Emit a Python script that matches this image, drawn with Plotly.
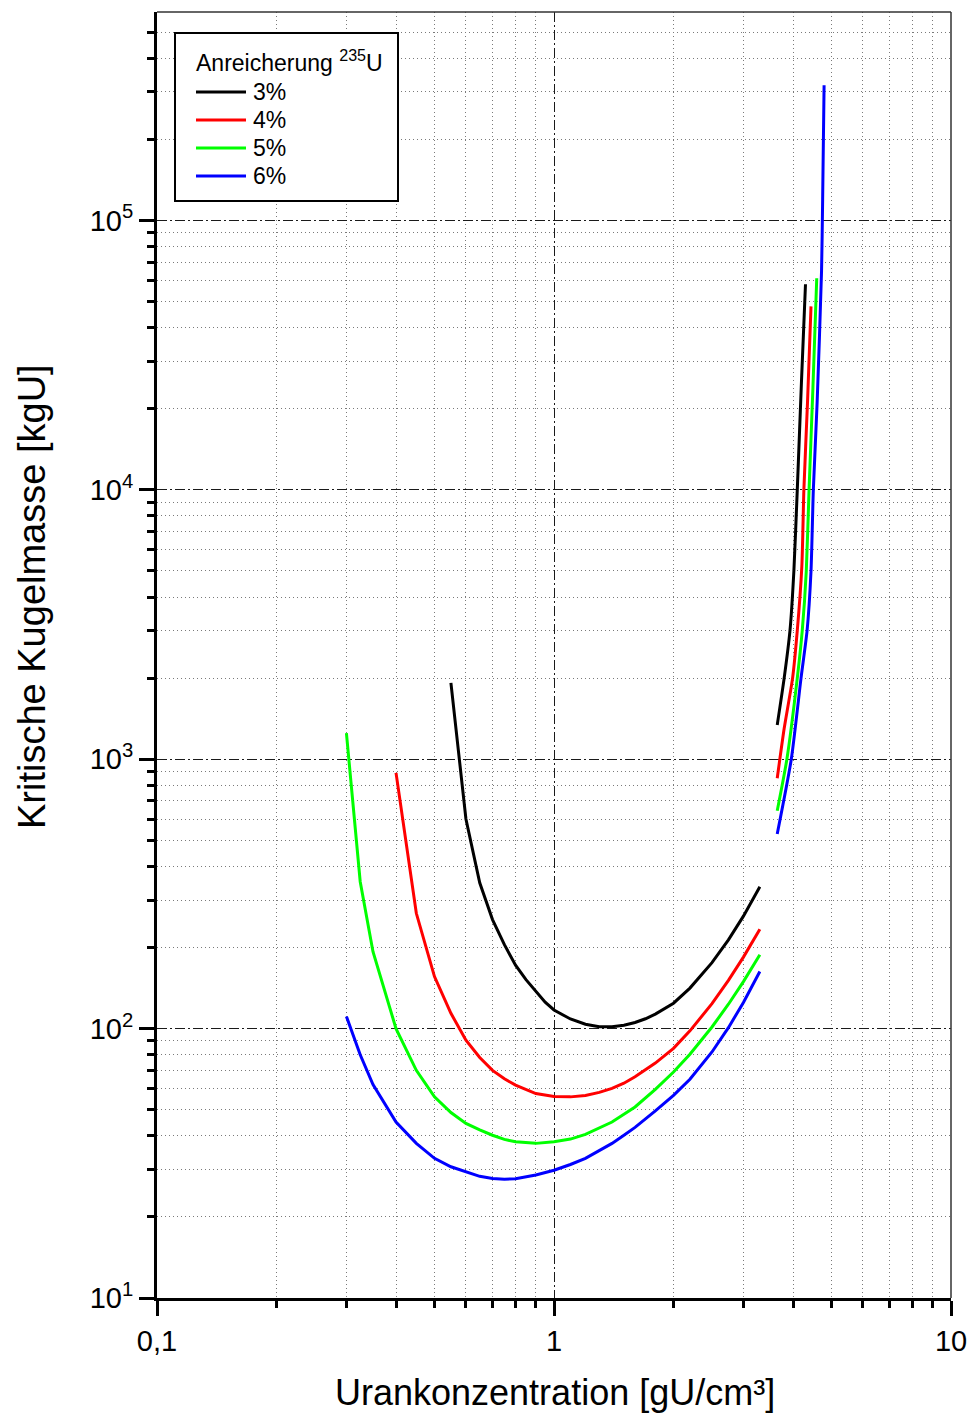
import plotly.graph_objects as go

# Critical sphere mass of uranium vs. uranium concentration, per enrichment level.
# Each enrichment has a low-concentration branch (U-shaped) and a high-concentration branch.

enrichment_labels = ["3%", "4%", "5%", "6%"]
line_colors = ["#000000", "#ff0000", "#00ff00", "#0000ff"]

# 3 % enrichment
conc_3_low = [0.55, 0.60, 0.65, 0.70, 0.75, 0.80, 0.85, 0.90, 0.95, 1.00, 1.10, 1.20, 1.30, 1.40, 1.50,
              1.60, 1.70, 1.80, 1.90, 2.00, 2.20, 2.50, 2.75, 3.00, 3.30]
mass_3_low = [1920, 600, 348, 254, 205, 172, 152, 138, 125.4, 117.3, 108.6, 103.8, 101.7, 101.6, 103,
              105.4, 108.8, 113.2, 118.4, 124.3, 141.4, 175.7, 213.5, 261.6, 336]
conc_3_high = [3.65, 3.80, 3.93, 4.02, 4.10, 4.20, 4.30]
mass_3_high = [1340, 2000, 3000, 5000, 10000, 25000, 58000]

# 4 % enrichment
conc_4_low = [0.40, 0.45, 0.50, 0.55, 0.60, 0.65, 0.70, 0.75, 0.80, 0.90, 1.00, 1.10, 1.20, 1.30, 1.40,
              1.50, 1.60, 1.80, 2.00, 2.20, 2.50, 2.75, 3.00, 3.30]
mass_4_low = [890, 268, 156, 114, 90.6, 78.1, 70, 65.1, 61.7, 57.4, 56, 55.8, 56.5, 58, 60,
              62.7, 66.3, 74.5, 84.5, 98.1, 123.8, 151, 184.3, 234]
conc_4_high = [3.65, 3.80, 3.99, 4.10, 4.21, 4.26, 4.35, 4.44]
mass_4_high = [850, 1300, 2000, 3000, 5200, 10000, 21000, 48000]

# 5 % enrichment
conc_5_low = [0.300, 0.325, 0.350, 0.400, 0.450, 0.500, 0.550, 0.600, 0.650, 0.700, 0.750, 0.800, 0.900,
              1.000, 1.100, 1.200, 1.400, 1.600, 1.800, 2.000, 2.200, 2.500, 2.750, 3.000, 3.300]
mass_5_low = [1250, 351, 193, 100, 70, 55.8, 48.8, 44.5, 42.1, 40.2, 38.8, 38, 37.5,
              38, 38.9, 40.5, 45, 51.2, 59.5, 69, 80.4, 101.4, 123.2, 149.5, 188]
conc_5_high = [3.65, 3.86, 4.10, 4.22, 4.32, 4.39, 4.49, 4.59]
mass_5_high = [644, 1000, 2000, 3000, 5000, 10000, 24000, 61000]

# 6 % enrichment
conc_6_low = [0.300, 0.325, 0.350, 0.400, 0.450, 0.500, 0.550, 0.600, 0.650, 0.700, 0.750, 0.800, 0.900,
              1.000, 1.100, 1.200, 1.300, 1.400, 1.500, 1.600, 1.800, 2.000, 2.200, 2.500, 2.750, 3.000, 3.300]
mass_6_low = [111, 80, 62, 45, 37.5, 33, 30.7, 29.4, 28.3, 27.8, 27.6, 27.7, 28.6,
              29.8, 31.3, 33, 35.2, 37.5, 40.2, 43, 49.5, 56.5, 64.9, 81.9, 100.8, 125.1, 163]
conc_6_high = [3.65, 3.96, 4.19, 4.34, 4.44, 4.50, 4.60, 4.72, 4.75, 4.79]
mass_6_high = [528, 1000, 2000, 3000, 5000, 10000, 21000, 65000, 120000, 318000]

x_tick_vals = [0.1, 1, 10]
x_tick_text = ["0,1", "1", "10"]
y_tick_vals = [1e1, 1e2, 1e3, 1e4, 1e5]
y_tick_text = ["10<sup>1</sup>", "10<sup>2</sup>", "10<sup>3</sup>", "10<sup>4</sup>", "10<sup>5</sup>"]

legend_title = "Anreicherung <sup>235</sup>U"
x_title = "Urankonzentration [gU/cm³]"
y_title = "Kritische Kugelmasse [kgU]"

x_minor_vals = [k * 10.0 ** e for e in (-1, 0) for k in range(2, 10)]
y_minor_vals = [k * 10.0 ** e for e in (1, 2, 3, 4, 5) for k in range(2, 10) if k * 10.0 ** e < 6e5]

series = [
    (conc_3_low, mass_3_low, conc_3_high, mass_3_high),
    (conc_4_low, mass_4_low, conc_4_high, mass_4_high),
    (conc_5_low, mass_5_low, conc_5_high, mass_5_high),
    (conc_6_low, mass_6_low, conc_6_high, mass_6_high),
]

FONT = "Liberation Sans, Arial, sans-serif"

# Figure geometry (pixels) used to place the legend box in paper coordinates
W, H = 971, 1416
M_L, M_R, M_T, M_B = 157, 20, 12, 118
PLOT_W = W - M_L - M_R
PLOT_H = H - M_T - M_B


def px_x(px):
    return (px - M_L) / PLOT_W


def px_y(py):
    return (H - M_B - py) / PLOT_H


fig = go.Figure()
for label, color, (xl, yl, xh, yh) in zip(enrichment_labels, line_colors, series):
    fig.add_trace(go.Scatter(
        x=xl, y=yl, mode="lines", name=label, legendgroup=label,
        line=dict(color=color, width=3),
    ))
    fig.add_trace(go.Scatter(
        x=xh, y=yh, mode="lines", name=label, legendgroup=label, showlegend=False,
        line=dict(color=color, width=3, shape="spline", smoothing=0.6),
    ))

axis_common = dict(
    type="log",
    automargin=False,
    showline=True, linecolor="black", linewidth=3,
    ticks="outside", ticklen=15, tickwidth=3, tickcolor="black",
    tickfont=dict(family=FONT, size=29, color="black"),
    showgrid=True, gridcolor="#1a1a1a", gridwidth=1, griddash="10px,3px,2px,3px",
    zeroline=False,
)
minor_common = dict(
    tickmode="array", ticks="outside", ticklen=7, tickwidth=2.5, tickcolor="black",
    showgrid=True, gridcolor="#7a7a7a", gridwidth=1, griddash="1px,3px",
)

fig.update_xaxes(
    **axis_common,
    range=[-1, 1],
    tickmode="array", tickvals=x_tick_vals, ticktext=x_tick_text,
    minor=dict(tickvals=x_minor_vals, **minor_common),
)
fig.update_yaxes(
    **axis_common,
    range=[1, 5.774],
    tickmode="array", tickvals=y_tick_vals, ticktext=y_tick_text,
    minor=dict(tickvals=y_minor_vals, **minor_common),
)

# Legend drawn as a framed box with colour samples
shapes = [
    dict(type="line", xref="paper", yref="paper", x0=0, x1=1, y0=1, y1=1,
         line=dict(color="#333333", width=1.5)),
    dict(type="line", xref="paper", yref="paper", x0=1, x1=1, y0=0, y1=1,
         line=dict(color="#333333", width=1.5)),
    dict(type="rect", xref="paper", yref="paper",
         x0=px_x(175), x1=px_x(398), y0=px_y(201), y1=px_y(33),
         fillcolor="white", line=dict(color="black", width=2), layer="above"),
]
annotations = [
    dict(text=legend_title, xref="paper", yref="paper",
         x=px_x(194), y=px_y(61), xanchor="left", yanchor="middle", showarrow=False,
         font=dict(family=FONT, size=23, color="black")),
]
entry_rows = [92, 120, 148, 176]
for label, color, row in zip(enrichment_labels, line_colors, entry_rows):
    shapes.append(dict(type="line", xref="paper", yref="paper",
                       x0=px_x(196), x1=px_x(246), y0=px_y(row), y1=px_y(row),
                       line=dict(color=color, width=3), layer="above"))
    annotations.append(dict(text=label, xref="paper", yref="paper",
                            x=px_x(251), y=px_y(row), xanchor="left", yanchor="middle",
                            showarrow=False, font=dict(family=FONT, size=23, color="black")))

annotations += [
    dict(text=x_title, xref="paper", yref="paper",
         x=px_x(555), y=px_y(1392), xanchor="center", yanchor="middle", showarrow=False,
         font=dict(family=FONT, size=36, color="black")),
    dict(text=y_title, xref="paper", yref="paper",
         x=px_x(32), y=px_y(597), xanchor="center", yanchor="middle", showarrow=False,
         textangle=-90, font=dict(family=FONT, size=38, color="black")),
]

fig.update_layout(
    width=W, height=H,
    margin=dict(l=M_L, r=M_R, t=M_T, b=M_B, autoexpand=False),
    paper_bgcolor="white", plot_bgcolor="white",
    font=dict(family=FONT, color="black"),
    showlegend=False,
    shapes=shapes,
    annotations=annotations,
)

fig.write_html("out.html")
